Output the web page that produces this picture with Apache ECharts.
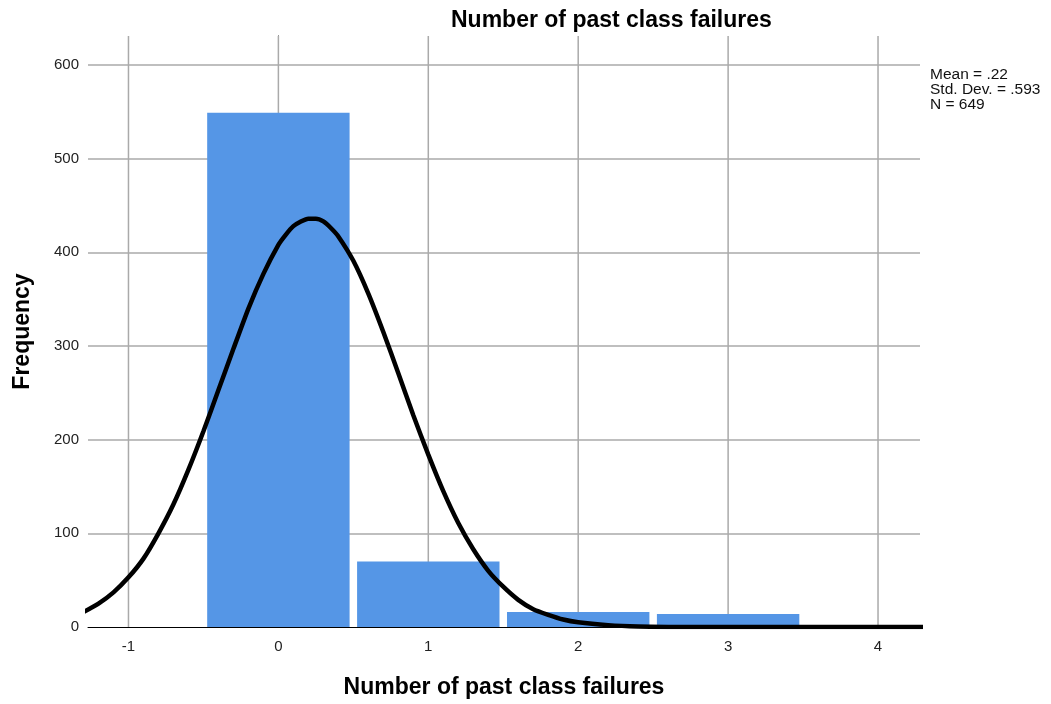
<!DOCTYPE html>
<html>
<head>
<meta charset="utf-8">
<script src="https://cdn.jsdelivr.net/npm/echarts@6/dist/echarts.min.js"></script>
<style>
  html, body { margin: 0; padding: 0; background: #fff; }
  #chart { width: 1051px; height: 704px; }
</style>
</head>
<body>
<div id="chart"></div>
<script>
// histogram bins (failures count) and their frequencies
const binCenters = [0, 1, 2, 3];
const frequencies = [549, 70, 16, 14];

// normal curve: [x, frequency]
const curveX = [-1.3, -1.2, -1.1, -1.0, -0.9, -0.8, -0.7, -0.6, -0.5, -0.4, -0.3, -0.2, -0.1, 0, 0.05, 0.1, 0.15, 0.2, 0.25, 0.3, 0.35, 0.4, 0.5, 0.6, 0.7, 0.8, 0.9, 1.0, 1.1, 1.2, 1.3, 1.4, 1.5, 1.6, 1.7, 1.8, 1.9, 2.0, 2.2, 2.4, 2.6, 3.0, 4.3];
const curveY = [16, 25, 37, 53, 73, 100, 131, 168, 209, 253, 297, 340, 377, 408, 419, 428, 433, 436, 436, 433, 426, 417, 391, 356, 315, 271, 226, 184, 145, 111, 83, 60, 43, 29, 19, 13, 8, 5, 2, 0.5, 0.1, 0, 0];

const xTicks = [-1, 0, 1, 2, 3, 4];
const statsLines = ['Mean = .22', 'Std. Dev. = .593', 'N = 649'];

const FONT = '"Liberation Sans", Arial, sans-serif';

const chart = echarts.init(document.getElementById('chart'));

chart.setOption({
    backgroundColor: '#fff',
    animation: false,
    title: {
        text: 'Number of past class failures',
        left: 446,
        top: 4,
        textStyle: {fontFamily: FONT, fontSize: 23, fontWeight: 'bold', color: '#000'}
    },
    grid: {left: 88, right: 131, top: 36, bottom: 77},
    xAxis: {
        type: 'value',
        min: -1.27,
        max: 4.28,
        name: 'Number of past class failures',
        nameLocation: 'middle',
        nameGap: 49,
        nameTextStyle: {fontFamily: FONT, fontSize: 23, fontWeight: 'bold', color: '#000'},
        axisLine: {show: true, onZero: false, lineStyle: {color: '#000', width: 1}},
        axisTick: {show: false},
        splitLine: {show: false},
        axisLabel: {
            customValues: xTicks,
            fontFamily: FONT, fontSize: 15, color: '#222', margin: 12
        }
    },
    yAxis: {
        type: 'value',
        min: 0,
        max: 631,
        interval: 100,
        name: 'Frequency',
        nameLocation: 'middle',
        nameGap: 54,
        nameTextStyle: {fontFamily: FONT, fontSize: 23, fontWeight: 'bold', color: '#000'},
        axisLine: {show: true, lineStyle: {color: '#000', width: 1}},
        axisTick: {show: false},
        axisLabel: {
            fontFamily: FONT, fontSize: 15, color: '#222', margin: 9,
            showMaxLabel: false,
            formatter: v => (v % 100 === 0 ? String(v) : '')
        },
        splitLine: {show: true, showMinLine: false, showMaxLine: false, lineStyle: {color: '#aaa', width: 1.5}}
    },
    graphic: [{
        type: 'text',
        left: 930,
        top: 67,
        style: {
            text: statsLines.join('\n'),
            font: '15.5px ' + FONT,
            lineHeight: 15,
            fill: '#111'
        }
    }],
    series: [
        {
            // vertical grid lines at the integer ticks
            type: 'custom',
            z: 1,
            silent: true,
            data: xTicks.map(v => [v]),
            renderItem: (params, api) => {
                const p0 = api.coord([api.value(0), 0]);
                const p1 = api.coord([api.value(0), 631]);
                return {
                    type: 'line',
                    shape: {x1: p0[0], y1: p0[1], x2: p1[0], y2: p1[1]},
                    style: {stroke: '#aaa', lineWidth: 1.5}
                };
            }
        },
        {
            type: 'custom',
            z: 2,
            data: binCenters.map((c, i) => [c, frequencies[i]]),
            renderItem: (params, api) => {
                const c = api.value(0);
                const tl = api.coord([c - 0.475, api.value(1)]);
                const br = api.coord([c + 0.475, 0]);
                return {
                    type: 'rect',
                    shape: {x: tl[0], y: tl[1], width: br[0] - tl[0], height: br[1] - tl[1]},
                    style: {fill: '#5596e6'}
                };
            }
        },
        {
            type: 'line',
            z: 3,
            smooth: 0.2,
            showSymbol: false,
            clip: true,
            data: curveX.map((x, i) => [x, curveY[i]]),
            lineStyle: {color: '#000', width: 4.5}
        }
    ]
});
</script>
</body>
</html>
